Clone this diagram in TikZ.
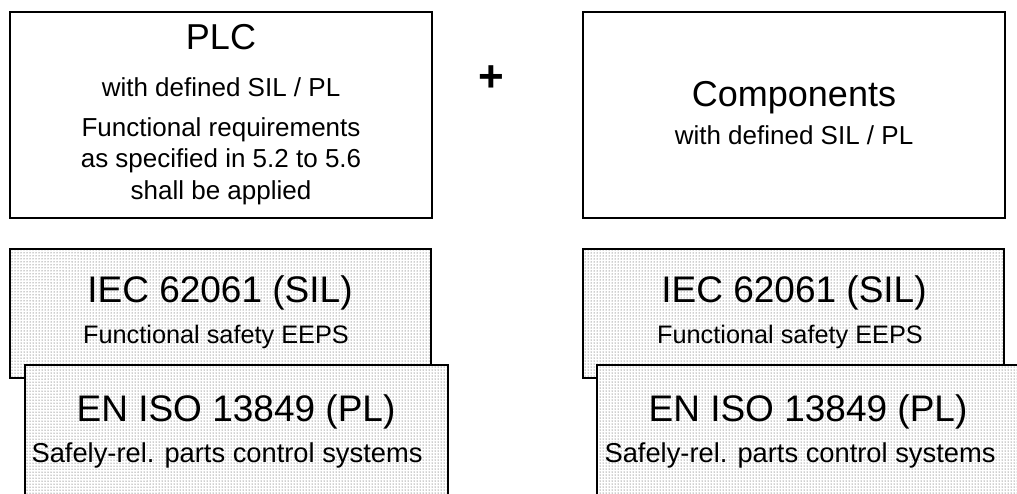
\documentclass[tikz,border=0pt]{standalone}
\usepackage{fontspec}
\setmainfont{Liberation Sans}
\usetikzlibrary{patterns}
\tikzset{
  x=1pt, y=-1pt,
  plainbox/.style={draw=black, line width=2.4pt, fill=white},
  normbox/.style={draw=black, line width=2pt},
  dotfill/.style={pattern=dots, pattern color=black!80},
  title/.style={anchor=base, inner sep=0pt, font=\fontsize{36}{40}\selectfont},
  sub/.style={anchor=base, inner sep=0pt, font=\fontsize{26}{30}\selectfont},
  normtitle/.style={anchor=base, inner sep=0pt, font=\fontsize{37}{42}\selectfont},
  normsub/.style={anchor=base, inner sep=0pt, font=\fontsize{25.3}{30}\selectfont},
  partsub/.style={anchor=base, inner sep=0pt, font=\fontsize{27.3}{30}\selectfont},
}
\begin{document}
\begin{tikzpicture}
\useasboundingbox (0,0) rectangle (1017,493);
\clip (0,0) rectangle (1017,493);

% upper boxes
\draw[plainbox] (10,12) rectangle (432,218);
\node[title] (plc) at (221,49) {PLC};
\node[sub] (plcsil) at (221,96) {with defined SIL / PL};
\node[sub] (plcf1) at (221,136) {Functional requirements};
\node[sub] (plcf2) at (221,167) {as specified in 5.2 to 5.6};
\node[sub] (plcf3) at (221,199) {shall be applied};

\node[anchor=center, inner sep=0pt, font=\fontsize{44}{48}\selectfont\bfseries] (plus) at (491,79) {+};

\draw[plainbox] (583,12) rectangle (1005,218);
\node[title] (comp) at (794,106) {Components};
\node[sub] (compsil) at (794,144) {with defined SIL / PL};

% standards, upper layer
\foreach \dx in {0, 573} {
  \begin{scope}[xshift=\dx]
    \fill[white] (10,249) rectangle (431,378);
    \fill[dotfill] (10,249) rectangle (431,378);
    \draw[normbox] (10,249) rectangle (431,378);
  \end{scope}
}
\node[normtitle] (iecl) at (220,302) {IEC 62061 (SIL)};
\node[normsub] (iecls) at (216,343) {Functional safety EEPS};
\node[normtitle] (iecr) at (794,302) {IEC 62061 (SIL)};
\node[normsub] (iecrs) at (790,343) {Functional safety EEPS};

% standards, lower layer
\foreach \dx in {0, 572} {
  \begin{scope}[xshift=\dx]
    \fill[white] (25,365) rectangle (448,510);
    \fill[dotfill] (25,365) rectangle (448,510);
    \draw[normbox] (25,510) -- (25,365) -- (448,365) -- (448,510);
  \end{scope}
}
\node[normtitle] (enl) at (236,421) {EN ISO 13849 (PL)};
\node[partsub] (enls) at (227,462) {Safely-rel. parts control systems};
\node[normtitle] (enr) at (808,421) {EN ISO 13849 (PL)};
\node[partsub] (enrs) at (800,462) {Safely-rel. parts control systems};
\end{tikzpicture}
\end{document}
